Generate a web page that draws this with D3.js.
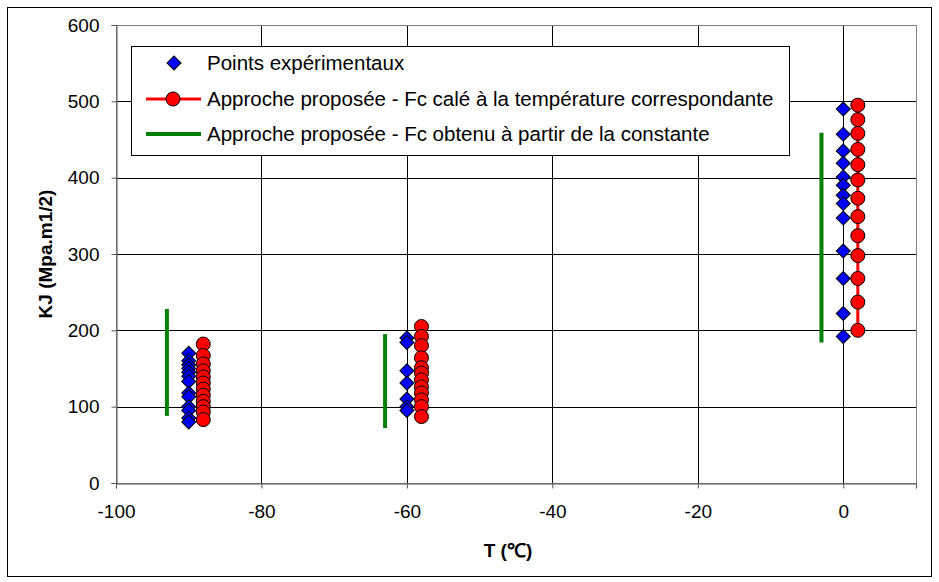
<!DOCTYPE html>
<html>
<head>
<meta charset="utf-8">
<script src="https://cdn.jsdelivr.net/npm/d3@7"></script>
<style>
  body { margin: 0; background: #fff; }
  text { font-family: "Liberation Sans", Arial, sans-serif; }
</style>
</head>
<body>
<script>
// data
var expT = [-90, -60, 0];
var expKJ = [
  [170, 160, 155, 150, 145, 140, 133, 118, 113, 100, 95, 85, 80],
  [190, 184, 147, 131, 110, 100, 95],
  [490, 457, 435, 419, 401, 390, 377, 366, 347, 304, 268, 222, 192]
];
var calT = [-88, -58, 2];
var calKJ = [
  [182, 167, 156, 147, 139, 131, 123, 115, 107, 100, 93, 83],
  [205, 192, 180, 164, 151, 144, 135, 126, 118, 109, 100, 87],
  [495, 476, 458, 437, 417, 397, 373, 349, 324, 298, 268, 237, 200]
];
var constT = [-93, -63, -3];
var constKJ = [[88, 228], [72, 195], [184, 459]];
var xTicks = [-100, -80, -60, -40, -20, 0];
var yTicks = [0, 100, 200, 300, 400, 500, 600];
var legendLabels = [
  "Points expérimentaux",
  "Approche proposée - Fc calé à la température correspondante",
  "Approche proposée - Fc obtenu à partir de la constante"
];

var width = 939, height = 582;
var margin = {top: 25, right: 23, bottom: 99, left: 116};

var svg = d3.select("body").append("svg")
    .attr("width", width)
    .attr("height", height);

// outer frame
svg.append("rect")
    .attr("x", 7.5).attr("y", 7.5)
    .attr("width", width - 15).attr("height", height - 13)
    .attr("fill", "none").attr("stroke", "#000");

var x = d3.scaleLinear().domain([-100, 10]).range([margin.left, width - margin.right]);
var y = d3.scaleLinear().domain([0, 600]).range([height - margin.bottom, margin.top]);

// grid
svg.append("g").selectAll("line")
    .data(xTicks.slice(1))
    .enter().append("line")
    .attr("x1", function(d) { return Math.round(x(d)) + 0.5; })
    .attr("x2", function(d) { return Math.round(x(d)) + 0.5; })
    .attr("y1", y(0)).attr("y2", y(600))
    .attr("stroke", "#000");
svg.append("g").selectAll("line")
    .data(yTicks.slice(1))
    .enter().append("line")
    .attr("y1", function(d) { return Math.round(y(d)) + 0.5; })
    .attr("y2", function(d) { return Math.round(y(d)) + 0.5; })
    .attr("x1", x(-100)).attr("x2", x(10))
    .attr("stroke", "#000");

svg.append("rect")
    .attr("x", x(-100) + 0.5).attr("y", y(600) + 0.5)
    .attr("width", x(10) - x(-100)).attr("height", y(0) - y(600))
    .attr("fill", "none").attr("stroke", "#808080");

// axes
var fmt = function(d) { return String(d); };
var xAxis = svg.append("g")
    .attr("transform", "translate(0," + (Math.round(y(0)) + 0.5) + ")")
    .call(d3.axisBottom(x).tickValues(xTicks).tickFormat(fmt).tickSize(5).tickPadding(16));
var yAxis = svg.append("g")
    .attr("transform", "translate(" + (Math.round(x(-100)) + 0.5) + ",0)")
    .call(d3.axisLeft(y).tickValues(yTicks).tickFormat(fmt).tickSize(5).tickPadding(12));
[xAxis, yAxis].forEach(function(a) {
  a.select(".domain").attr("stroke", "#555");
  a.selectAll(".tick line").attr("stroke", "#555");
  a.selectAll("text").attr("font-size", 19).attr("fill", "#000")
    .style("font-family", "'Liberation Sans', Arial, sans-serif");
});

svg.append("text")
    .attr("x", 508).attr("y", 557)
    .attr("text-anchor", "middle")
    .attr("font-size", 19).attr("font-weight", "bold")
    .text("T (℃)");
svg.append("text")
    .attr("transform", "translate(52,254) rotate(-90)")
    .attr("text-anchor", "middle")
    .attr("font-size", 19).attr("font-weight", "bold")
    .text("KJ (Mpa.m1/2)");

// green constant approach segments
constT.forEach(function(t, i) {
  svg.append("line")
      .attr("x1", x(t)).attr("x2", x(t))
      .attr("y1", y(constKJ[i][0])).attr("y2", y(constKJ[i][1]))
      .attr("stroke", "#008000").attr("stroke-width", 4);
});

// red calibrated approach
var line = d3.line().x(function(d) { return x(d[0]); }).y(function(d) { return y(d[1]); });
calT.forEach(function(t, i) {
  var pts = calKJ[i].map(function(v) { return [t, v]; });
  svg.append("path")
      .attr("d", line(pts))
      .attr("fill", "none").attr("stroke", "#ff0000").attr("stroke-width", 3);
});

var diamond = d3.symbol().type(d3.symbolSquare).size(98);

// experimental points
expT.forEach(function(t, i) {
  svg.append("g").selectAll("path")
      .data(expKJ[i])
      .enter().append("path")
      .attr("d", diamond)
      .attr("transform", function(d) { return "translate(" + x(t) + "," + y(d) + ") rotate(45)"; })
      .attr("fill", "#0000ff").attr("stroke", "#000").attr("stroke-width", 1);
});

calT.forEach(function(t, i) {
  svg.append("g").selectAll("circle")
      .data(calKJ[i])
      .enter().append("circle")
      .attr("cx", x(t)).attr("cy", function(d) { return y(d); })
      .attr("r", 7)
      .attr("fill", "#ff0000").attr("stroke", "#000").attr("stroke-width", 1);
});

// legend
var lg = svg.append("g");
lg.append("rect")
    .attr("x", 131.5).attr("y", 46.5)
    .attr("width", 658).attr("height", 109)
    .attr("fill", "#fff").attr("stroke", "#000");
var rows = [63, 99, 134];
lg.append("path")
    .attr("d", diamond)
    .attr("transform", "translate(174," + rows[0] + ") rotate(45)")
    .attr("fill", "#0000ff").attr("stroke", "#000");
lg.append("line")
    .attr("x1", 146).attr("x2", 201).attr("y1", rows[1]).attr("y2", rows[1])
    .attr("stroke", "#ff0000").attr("stroke-width", 3);
lg.append("circle")
    .attr("cx", 173).attr("cy", rows[1]).attr("r", 7)
    .attr("fill", "#ff0000").attr("stroke", "#000");
lg.append("line")
    .attr("x1", 146).attr("x2", 201).attr("y1", rows[2]).attr("y2", rows[2])
    .attr("stroke", "#008000").attr("stroke-width", 4);
lg.selectAll("text.lab")
    .data(legendLabels)
    .enter().append("text")
    .attr("class", "lab")
    .attr("x", 207).attr("y", function(d, i) { return rows[i] + 7; })
    .attr("font-size", 20.5)
    .text(function(d) { return d; });
</script>
</body>
</html>
